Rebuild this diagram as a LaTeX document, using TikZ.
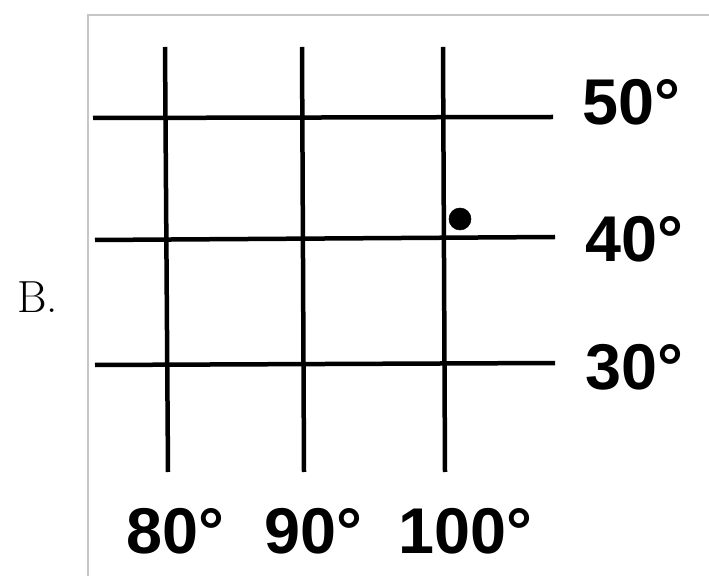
\documentclass[tikz,border=0pt]{standalone}
\usepackage{fontspec}
\newfontfamily\labelfont{Liberation Sans}
\usetikzlibrary{positioning}

\tikzset{
  gridline/.style={line width=3.2pt,black},
  deglabel/.style={font=\labelfont\bfseries\fontsize{46}{46}\selectfont,inner sep=0pt}
}

\begin{document}
\begin{tikzpicture}[x=0.025cm,y=-0.025cm]
  \useasboundingbox (0,0) rectangle (709,576);
  % frame of the figure
  \draw[gray!45,line width=0.8pt] (88,580) |- (715,15);
  % meridians
  \draw[gridline] (165,47)--(168,472);
  \draw[gridline] (302,47)--(304,472);
  \draw[gridline] (443,47)--(445,472);
  % parallels
  \draw[gridline] (93,118)--(553,117);
  \draw[gridline] (95,240)--(555,237);
  \draw[gridline] (95,365)--(555,363);
  % the point
  \filldraw (460,219) circle (11);
  % labels
  \node[deglabel,anchor=base west] (lat50) at (582,125) {50°};
  \node[deglabel,anchor=base west] (lat40) at (585,262) {40°};
  \node[deglabel,anchor=base west] (lat30) at (585,389) {30°};
  \node[deglabel,anchor=base] (lon80) at (175,553) {80°};
  \node[deglabel,anchor=base] (lon90) at (313,553) {90°};
  \node[deglabel,anchor=base] (lon100) at (465,553) {100°};
  \node[anchor=base west,inner sep=0pt,font=\fontsize{32}{32}\selectfont] (part) at (17,313) {B.};
\end{tikzpicture}
\end{document}
